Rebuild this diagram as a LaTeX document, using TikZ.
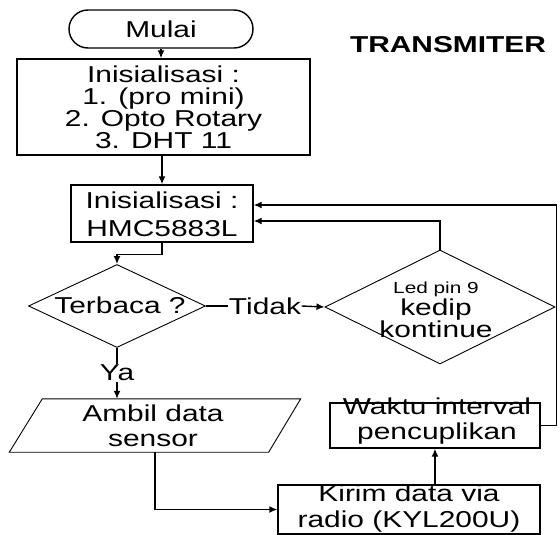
\documentclass[tikz,border=0pt]{standalone}
\usepackage{fontspec}
\setmainfont{Liberation Sans}[FakeStretch=1.3]
\usetikzlibrary{shapes.geometric,arrows.meta}
\begin{document}
\begin{tikzpicture}[x=1pt,y=-1pt,
  line width=1.4pt,
  box/.style={draw, rectangle, inner sep=0pt},
  thin shape/.style={draw, inner sep=0pt, line width=0.9pt},
  txt/.style={inner sep=0pt, align=center, font=\fontsize{23}{22}\selectfont},
  arr/.style={-{Latex[length=8pt,width=7pt]}},
]
\useasboundingbox (0,0) rectangle (560,535);
% shapes
\node[box, rounded corners=19pt, minimum width=184pt, minimum height=38pt] (mulai) at (161,29) {};
\node[txt] (mulait) at (161,29) {Mulai};
\node[font=\bfseries\fontsize{23}{23}\selectfont, inner sep=0pt] (title) at (448,45) {TRANSMITER};
\node[box, minimum width=293pt, minimum height=96pt] (init1) at (163.5,107) {};
\node[txt] (init1t) at (163.5,107) {Inisialisasi :\\1. (pro mini)\\2. Opto Rotary\\3. DHT 11};
\node[box, minimum width=182pt, minimum height=57pt] (init2) at (162,213.5) {};
\node[txt, font=\fontsize{23}{28}\selectfont] (init2t) at (162,214) {Inisialisasi :\\HMC5883L};
\node[thin shape, diamond, minimum width=177pt, minimum height=83pt] (d1) at (117,306) {};
\node[txt] (d1t) at (120,305) {Terbaca ?};
\node[txt] (tidak) at (265,306) {Tidak};
\node[thin shape, diamond, minimum width=230pt, minimum height=114pt] (d2) at (440,307) {};
\node[txt, font=\fontsize{23}{22}\selectfont] (d2t) at (436,310) {{\fontsize{16}{16}\selectfont Led pin 9}\\kedip\\kontinue};
\node[txt] (ya) at (117,373) {Ya};
\node[inner sep=0pt, minimum width=290pt, minimum height=52pt] (amb) at (155,425.5) {};
\draw[line width=0.9pt] (amb.south west) -- ([xshift=-32pt]amb.south east) -- (amb.north east)
  -- ([xshift=33pt]amb.north west) -- cycle;
\node[txt, font=\fontsize{23}{25}\selectfont] (ambt) at (153,426) {Ambil data\\sensor};
\node[box, minimum width=210pt, minimum height=45pt] (waktu) at (435,425.5) {};
\node[txt, font=\fontsize{23}{25}\selectfont] (waktut) at (437,421) {Waktu interval\\pencuplikan};
\node[box, minimum width=262pt, minimum height=49pt] (kirim) at (409,509.5) {};
\node[txt, font=\fontsize{23}{26}\selectfont] (kirimt) at (409,509) {Kirim data via\\radio (KYL200U)};
% connectors
\draw[arr] (mulai.south) -- (mulai.south |- init1.north);
\draw[arr] (init2.north |- init1.south) -- (init2.north);
\draw[arr] (init2.south) -- ++(0,12) -| (d1.north);
\draw (d1.east) -- (tidak.west);
\draw[arr] (tidak.east) -- (d2.west);
\draw (d1.south) -- (ya.north);
\draw[arr] (ya.south) -- (ya.south |- amb.north);
\draw[arr] (amb.south) |- (kirim.west);
\draw[arr] (waktu.south |- kirim.north) -- (waktu.south);
\draw[arr] (waktu.east) -- ++(16,0) |- ([yshift=8.5pt]init2.east);
\draw[arr] (d2.north) |- ([yshift=-7.5pt]init2.east);
\end{tikzpicture}
\end{document}
